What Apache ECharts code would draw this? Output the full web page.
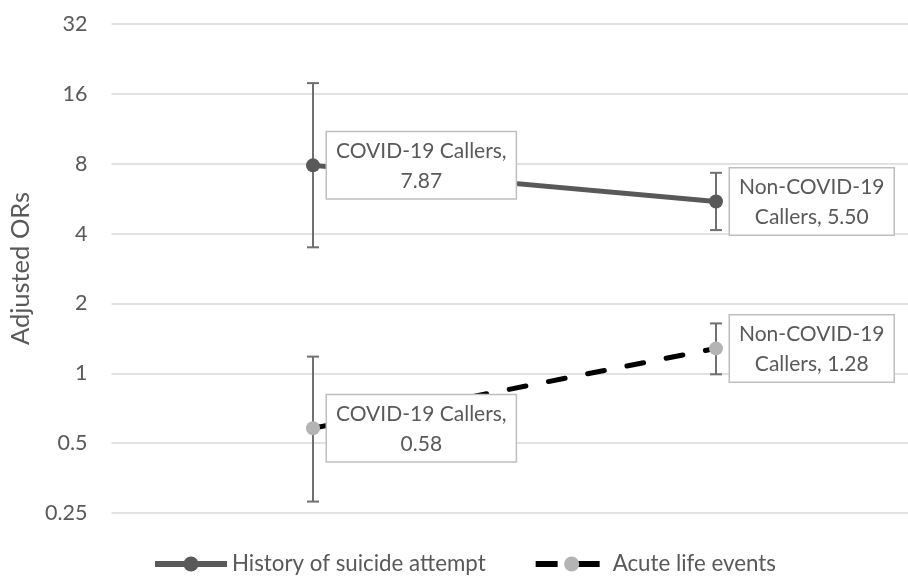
<!DOCTYPE html>
<html>
<head>
<meta charset="utf-8">
<script src="https://cdn.jsdelivr.net/npm/echarts@6/dist/echarts.min.js"></script>
<style>
html,body{margin:0;padding:0;background:#fff;}
#chart{width:908px;height:576px;}
</style>
</head>
<body>
<div id="chart"></div>
<script>
const categories = ['COVID-19 Callers', 'Non-COVID-19 Callers'];
const labelLines = [['COVID-19 Callers,', ''], ['Non-COVID-19', 'Callers, ']];
const seriesNames = ['History of suicide attempt', 'Acute life events'];
const historyValues = [7.87, 5.50];
const historyLower = [3.49, 4.14];
const historyUpper = [17.8, 7.31];
const acuteValues = [0.58, 1.28];
const acuteLower = [0.28, 0.99];
const acuteUpper = [1.18, 1.64];
const yTicks = [0.25, 0.5, 1, 2, 4, 8, 16, 32];

const FONT = 'Lato';
const TXT = '#595959';

function labelFormatter(p) {
  const l = labelLines[p.dataIndex];
  return '{a|' + l[0] + '}\n{a|' + l[1] + p.value[1].toFixed(2) + '}';
}

function pts(vals) {
  return categories.map((c, i) => [i, vals[i]]);
}
function errData(lo, hi) {
  return categories.map((c, i) => [i, lo[i], hi[i]]);
}

function errRender(params, api) {
  const x = api.value(0);
  const p1 = api.coord([x, api.value(1)]);
  const p2 = api.coord([x, api.value(2)]);
  const cap = 6;
  const st = { stroke: '#707070', lineWidth: 2 };
  return {
    type: 'group',
    children: [
      { type: 'line', shape: { x1: p1[0], y1: p1[1], x2: p2[0], y2: p2[1] }, style: st },
      { type: 'line', shape: { x1: p1[0] - cap, y1: p1[1], x2: p1[0] + cap, y2: p1[1] }, style: st },
      { type: 'line', shape: { x1: p2[0] - cap, y1: p2[1], x2: p2[0] + cap, y2: p2[1] }, style: st }
    ]
  };
}

const labelCfg = {
  show: true,
  position: 'right',
  distance: 7,
  formatter: labelFormatter,
  backgroundColor: '#fff',
  borderColor: '#bfbfbf',
  borderWidth: 1.5,
  padding: [4, 9, 2, 9],
  rich: {
    a: { fontFamily: FONT, fontSize: 21, color: TXT, lineHeight: 30, align: 'center' }
  }
};

// category bands continue past the right edge of the picture
const xMin = -0.5;
const xMax = -0.5 + 796.5 / 403;

const chart = echarts.init(document.getElementById('chart'), null, { renderer: 'canvas' });
chart.setOption({
  animation: false,
  backgroundColor: '#fff',
  textStyle: { fontFamily: FONT },
  grid: { left: 111.5, right: 0, top: 24, bottom: 63, containLabel: false },
  legend: {
    data: [
      { name: seriesNames[0], lineStyle: { width: 6, type: 'solid' } },
      { name: seriesNames[1], lineStyle: { width: 6, type: [22, 20], cap: 'butt' } }
    ],
    left: 147,
    top: 548,
    itemWidth: 72,
    itemHeight: 19,
    itemGap: 47,
    textStyle: { fontFamily: FONT, fontSize: 22.3, color: TXT }
  },
  xAxis: {
    type: 'value',
    min: xMin,
    max: xMax,
    axisLine: { show: false },
    axisTick: { show: false },
    axisLabel: { show: false },
    splitLine: { show: false }
  },
  yAxis: {
    type: 'log',
    logBase: 2,
    min: yTicks[0],
    max: yTicks[yTicks.length - 1],
    name: 'Adjusted ORs',
    nameLocation: 'middle',
    nameGap: 77,
    nameTextStyle: { fontFamily: FONT, fontSize: 25.5, color: TXT },
    axisLine: { show: false },
    axisTick: { show: false },
    axisLabel: {
      fontFamily: FONT, fontSize: 21.5, color: TXT, margin: 24,
      formatter: v => String(+(+v).toPrecision(6))
    },
    splitLine: { lineStyle: { color: '#d9d9d9', width: 1.5 } }
  },
  series: [
    {
      type: 'custom', name: 'err1', renderItem: errRender,
      data: errData(historyLower, historyUpper), z: 1, silent: true
    },
    {
      type: 'custom', name: 'err2', renderItem: errRender,
      data: errData(acuteLower, acuteUpper), z: 1, silent: true
    },
    {
      name: seriesNames[0],
      type: 'line',
      data: pts(historyValues),
      z: 3,
      symbol: 'circle',
      symbolSize: 14,
      itemStyle: { color: '#595959' },
      lineStyle: { color: '#595959', width: 5 },
      label: labelCfg
    },
    {
      name: seriesNames[1],
      type: 'line',
      data: pts(acuteValues),
      z: 3,
      symbol: 'circle',
      symbolSize: 14,
      itemStyle: { color: '#b4b4b4' },
      lineStyle: { color: '#000', width: 5, type: [17, 23], cap: 'round' },
      label: labelCfg
    }
  ]
});
</script>
</body>
</html>
